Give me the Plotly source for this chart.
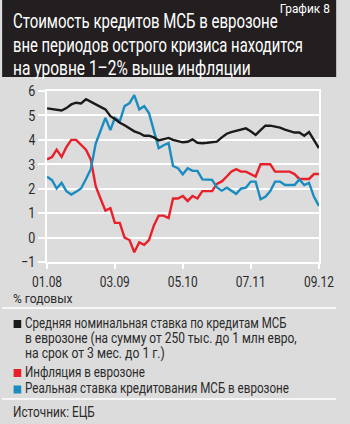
import json
import pandas as pd
import plotly.graph_objects as go

months = pd.date_range("2008-01-01", periods=57, freq="MS")

nominal = [5.29, 5.25, 5.22, 5.20, 5.30, 5.45, 5.52, 5.49, 5.66, 5.55, 5.45, 5.35,
           5.25, 4.97, 4.85, 4.70, 4.60, 4.49, 4.35, 4.28, 4.17, 4.17, 4.10, 3.98,
           4.03, 4.08, 4.00, 3.94, 3.90, 3.92, 4.02, 3.88, 3.86, 3.88, 3.90, 3.93,
           4.10, 4.25, 4.32, 4.38, 4.43, 4.47, 4.35, 4.20, 4.40, 4.58, 4.58, 4.55,
           4.50, 4.42, 4.35, 4.30, 4.30, 4.17, 4.32, 4.00, 3.66]

inflation = [3.2, 3.3, 3.6, 3.3, 3.7, 4.0, 4.0, 3.8, 3.6, 3.2, 2.1, 1.6,
             1.1, 1.2, 0.6, 0.6, 0.0, -0.1, -0.6, -0.2, -0.3, -0.1, 0.5, 0.9,
             0.9, 0.8, 1.6, 1.6, 1.7, 1.5, 1.7, 1.6, 1.9, 1.9, 1.9, 2.2,
             2.3, 2.5, 2.7, 2.8, 2.7, 2.7, 2.6, 2.5, 3.0, 3.0, 3.0, 2.7,
             2.7, 2.7, 2.7, 2.6, 2.4, 2.4, 2.4, 2.6, 2.6]

real = [2.49, 2.35, 2.01, 2.24, 1.90, 1.76, 1.88, 2.01, 2.40, 2.80, 3.85, 4.40,
        4.90, 4.40, 4.90, 4.76, 5.38, 5.50, 5.83, 5.25, 5.38, 5.10, 4.40, 3.66,
        3.78, 3.87, 2.93, 2.84, 2.59, 2.84, 2.73, 2.73, 2.38, 2.38, 2.36, 2.05,
        1.92, 2.04, 1.92, 1.79, 2.00, 2.04, 2.29, 2.29, 1.57, 1.67, 1.90, 2.29,
        2.29, 2.15, 2.15, 2.15, 2.38, 2.15, 2.24, 1.67, 1.30]

tick_dates = ["2008-01-01", "2009-03-01", "2010-05-01", "2011-07-01", "2012-09-01"]
tick_labels = ["01.08", "03.09", "05.10", "07.11", "09.12"]
y_ticks = [-1, 0, 1, 2, 3, 4, 5, 6]
y_labels = ["\u22121", "0", "1", "2", "3", "4", "5", "6"]

title_lines = ["Стоимость кредитов МСБ в еврозоне",
               "вне периодов острого кризиса находится",
               "на уровне 1\u20132% выше инфляции"]
chart_no = "График 8"
legend_items = [
    ("#1a1a1a", ["Средняя номинальная ставка по кредитам МСБ",
                 "в еврозоне (на сумму от 250 тыс. до 1 млн евро,",
                 "на срок от 3 мес. до 1 г.)"]),
    ("#e8202a", ["Инфляция в еврозоне"]),
    ("#1b8cbf", ["Реальная ставка кредитования МСБ в еврозоне"]),
]
unit_label = "% годовых"
source = "Источник: ЕЦБ"

# target rendered widths (px) imitating the condensed typeface of the original
title_widths = [265, 290, 238]
legend_widths = [[262, 272, 140], [120], [264]]

W, H = 350, 424
L, R, T, B = 47, 332, 91, 262
FONT = "Roboto, sans-serif"
BG = "#dcdcdc"
TXT = "#2a2a2a"


def px(x):
    return (x - L) / (R - L)


def py(y):
    return (B - y) / (B - T)


widths = {}

fig = go.Figure()
for vals, color in [(inflation, "#e8202a"), (real, "#1b8cbf"), (nominal, "#1a1a1a")]:
    fig.add_trace(go.Scatter(x=months, y=vals, mode="lines",
                             line=dict(color=color, width=2.4), showlegend=False,
                             hoverinfo="skip"))

shapes = [
    dict(type="rect", xref="paper", yref="paper", x0=px(0), x1=px(W), y0=py(77), y1=py(0),
         fillcolor="#231f20", line=dict(width=0), layer="below"),
    dict(type="line", xref="paper", yref="paper", x0=px(0), x1=px(W), y0=py(308), y1=py(308),
         line=dict(color="white", width=1.5)),
    dict(type="line", xref="paper", yref="paper", x0=px(0), x1=px(W), y0=py(399), y1=py(399),
         line=dict(color="white", width=1.5)),
]

annotations = []


def add_text(text, x, y, size, color, anchor="left", width=None):
    annotations.append(dict(text=text, xref="paper", yref="paper", x=px(x), y=py(y),
                            xanchor=anchor, yanchor="middle", align=anchor,
                            showarrow=False, borderpad=0,
                            font=dict(family=FONT, size=size, color=color)))
    if width:
        widths[text] = width


for i, t in enumerate(title_lines):
    add_text(t, 10, [21, 44.5, 68][i], 20, "white", width=title_widths[i])
add_text(chart_no, 345, 8.5, 13, "white", anchor="right", width=50)
add_text(unit_label, 10, 298, 13, TXT, width=60)

centers = [[323, 338, 353], [371.5], [387.5]]
squares = [324, 373, 389.5]
for (color, lines), cs, sq, ws in zip(legend_items, centers, squares, legend_widths):
    shapes.append(dict(type="rect", xref="paper", yref="paper", x0=px(12), x1=px(20),
                       y0=py(sq + 4), y1=py(sq - 4), fillcolor=color, line=dict(width=0)))
    for ln, cy, w in zip(lines, cs, ws):
        add_text(ln, 23, cy, 14, TXT, width=w)
add_text(source, 10, 412, 14, TXT, width=82)

for lab in tick_labels:
    widths[lab] = 30
widths["\u22121"] = 14
for lab in y_labels[1:]:
    widths[lab] = 7

fig.update_layout(
    width=W, height=H,
    margin=dict(l=L, r=W - R, t=T, b=H - B),
    paper_bgcolor=BG, plot_bgcolor=BG,
    shapes=shapes, annotations=annotations,
    xaxis=dict(range=["2007-12-31 12:00", "2012-09-01 12:00"], tickvals=tick_dates,
               ticktext=tick_labels, ticklabeloverflow="allow",
               showgrid=False, zeroline=False, showline=True, mirror=True,
               linecolor="white", linewidth=1.5, ticks="outside", ticklen=5,
               tickcolor="white", tickwidth=1.5,
               tickfont=dict(family=FONT, size=15, color=TXT)),
    yaxis=dict(range=[-1, 6], tickvals=y_ticks, ticktext=y_labels,
               showgrid=True, gridcolor="white", gridwidth=1.5, zeroline=False,
               showline=True, mirror=True, linecolor="white", linewidth=1.5,
               ticks="outside", ticklen=7, tickcolor="white", tickwidth=1.5,
               tickfont=dict(family=FONT, size=15, color=TXT)),
)

post = """
var W = %s;
var gd = document.getElementById('{plot_id}');
gd.querySelectorAll('text').forEach(function (t) {
  var s = t.textContent;
  if (!W.hasOwnProperty(s)) return;
  var bb = t.getBBox();
  if (!bb.width) return;
  var k = W[s] / bb.width;
  var a = t.getAttribute('text-anchor') || 'start';
  var p = a === 'end' ? bb.x + bb.width : (a === 'middle' ? bb.x + bb.width / 2 : bb.x);
  var old = t.getAttribute('transform') || '';
  t.setAttribute('transform', old + ' translate(' + p + ',0) scale(' + k + ',1) translate(' + (-p) + ',0)');
  var g = t.closest('g.annotation');
  if (g) {
    g.querySelectorAll('rect').forEach(function (r) {
      r.setAttribute('width', 0);
      r.setAttribute('height', 0);
    });
  }
});
""" % json.dumps(widths, ensure_ascii=False)

fig.write_html("out.html", post_script=post)
